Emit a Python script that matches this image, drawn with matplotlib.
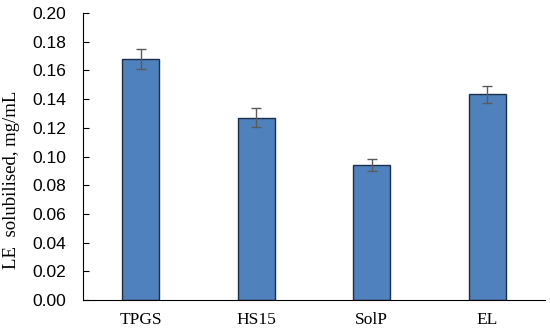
import numpy as np
import matplotlib.pyplot as plt

# 数据
categories = ['TPGS', 'HS15', 'SolP', 'EL']
values = [0.168, 0.127, 0.094, 0.1435]
errors = [0.007, 0.0067, 0.0043, 0.006]
yticks = [0.00, 0.02, 0.04, 0.06, 0.08, 0.10, 0.12, 0.14, 0.16, 0.18, 0.20]

fig = plt.figure(figsize=(5.5, 3.35), dpi=100)
ax = fig.add_axes([0.151, 0.1045, 0.840, 0.8565])

x = np.arange(len(categories))
ax.bar(x, values, width=0.32, color='#4F81BD', edgecolor='#1B2F4B', linewidth=1.0, zorder=2)
ax.errorbar(x, values, yerr=errors, fmt='none', ecolor='#5A5A5A', elinewidth=1.0,
            capsize=3.5, capthick=1.0, zorder=3)

ax.set_xlim(-0.5, len(categories) - 0.5)
ax.set_ylim(0, 0.20)
ax.set_yticks(yticks)
ax.set_yticklabels(['%.2f' % v for v in yticks], fontfamily='Liberation Sans', fontsize=12.5)
ax.set_xticks(x)
ax.set_xticklabels(categories, fontfamily='Liberation Serif', fontsize=12.5)

ax.tick_params(axis='y', direction='in', length=4, width=0.8, pad=12)
ax.tick_params(axis='x', length=0, pad=9)

ax.spines['top'].set_visible(False)
ax.spines['right'].set_visible(False)
ax.spines['left'].set_linewidth(0.8)
ax.spines['bottom'].set_linewidth(0.8)

ax.set_ylabel('LE  solubilised, mg/mL', fontfamily='Liberation Serif', fontsize=13.5)
ax.yaxis.set_label_coords(-0.136, 0.42)

fig.savefig('out.png', dpi=100)
